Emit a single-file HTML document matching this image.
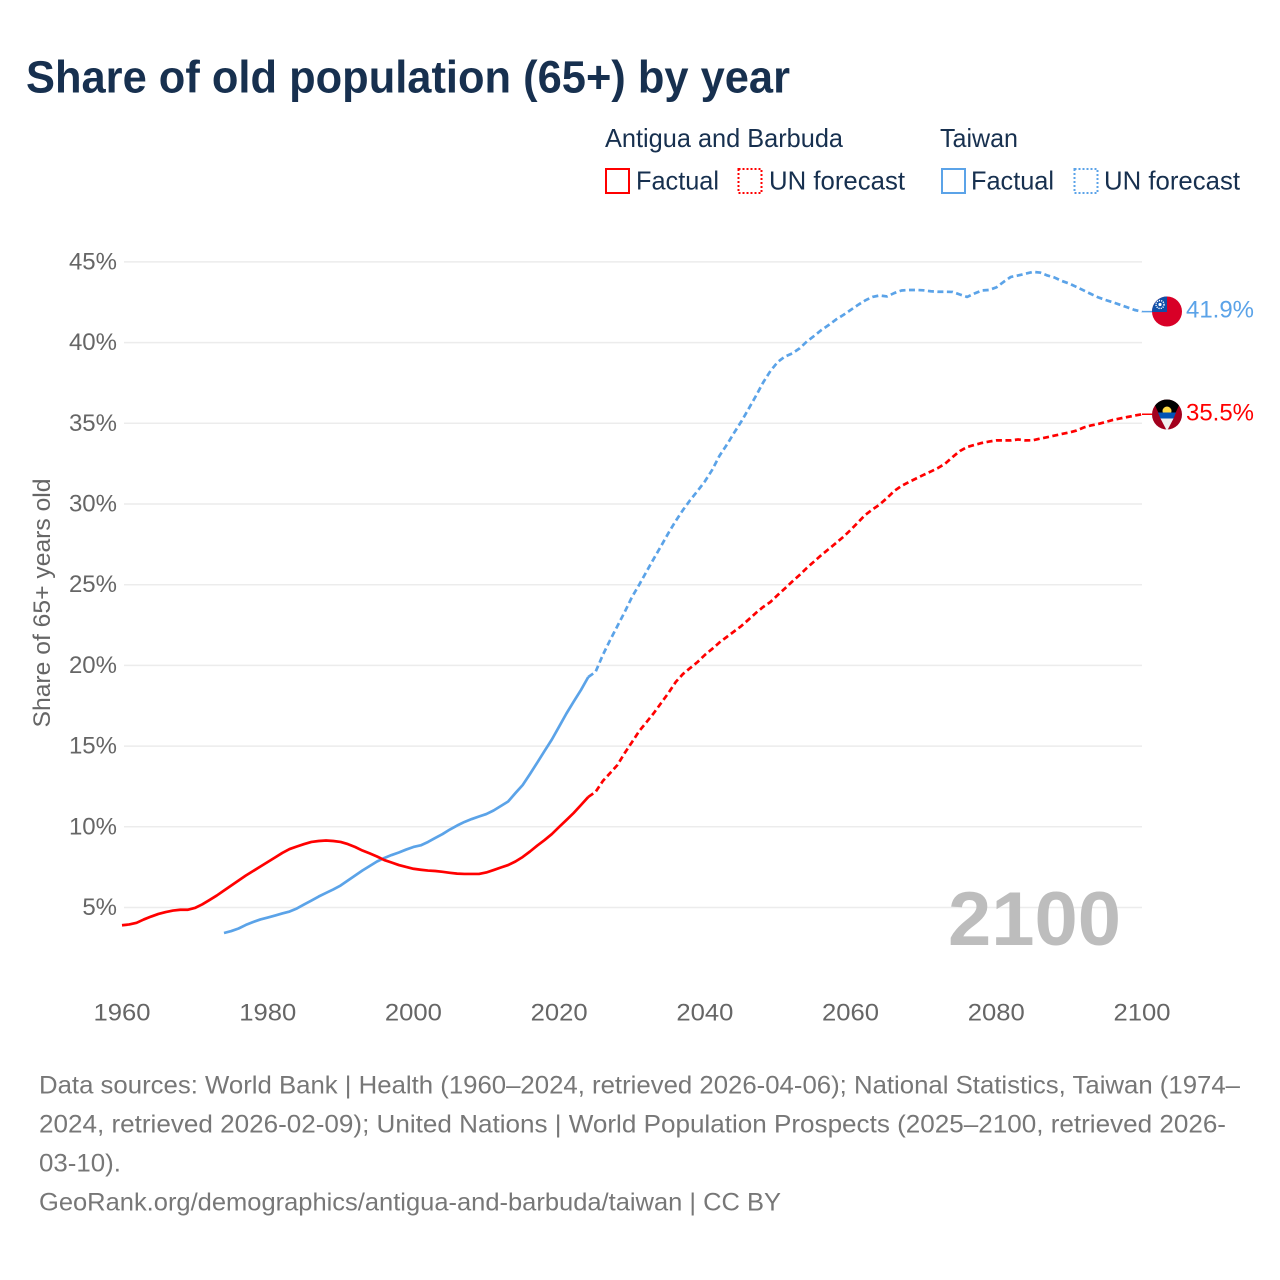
<!DOCTYPE html>
<html lang="en">
<head>
<meta charset="utf-8">
<title>Share of old population (65+) by year</title>
<style>
html,body{margin:0;padding:0;background:#fff;width:1280px;height:1280px;overflow:hidden}
svg{display:block}
text{font-family:"Liberation Sans",sans-serif}
</style>
</head>
<body>
<svg id="chart" xmlns="http://www.w3.org/2000/svg" width="1280" height="1280" viewBox="0 0 1280 1280">
  <rect x="0" y="0" width="1280" height="1280" fill="#fff"/>
  <text x="26" y="92.5" font-size="45" font-weight="700" fill="#17304f" textLength="764" lengthAdjust="spacingAndGlyphs">Share of old population (65+) by year</text>

  <g font-size="26" fill="#17304f">
    <text x="605" y="147" textLength="238" lengthAdjust="spacingAndGlyphs">Antigua and Barbuda</text>
    <text x="940" y="147" textLength="78" lengthAdjust="spacingAndGlyphs">Taiwan</text>
    <rect x="606" y="169" width="23" height="24" fill="none" stroke="#ff0000" stroke-width="2"/>
    <text x="636" y="189.5" textLength="83" lengthAdjust="spacingAndGlyphs">Factual</text>
    <rect x="738.5" y="169" width="23" height="24" fill="none" stroke="#ff0000" stroke-width="2" stroke-dasharray="2 2"/>
    <text x="769" y="189.5" textLength="136" lengthAdjust="spacingAndGlyphs">UN forecast</text>
    <rect x="942" y="169" width="23" height="24" fill="none" stroke="#5ba3e8" stroke-width="2"/>
    <text x="971" y="189.5" textLength="83" lengthAdjust="spacingAndGlyphs">Factual</text>
    <rect x="1074.5" y="169" width="23" height="24" fill="none" stroke="#5ba3e8" stroke-width="2" stroke-dasharray="2 2"/>
    <text x="1104" y="189.5" textLength="136" lengthAdjust="spacingAndGlyphs">UN forecast</text>
  </g>

  <g id="grid"></g>
  <g id="yticks"></g>
  <g id="xticks"></g>
  <text transform="translate(50,603) rotate(-90)" text-anchor="middle" font-size="24.5" fill="#666" textLength="249" lengthAdjust="spacingAndGlyphs">Share of 65+ years old</text>
  <text x="948" y="945" font-size="76" font-weight="700" fill="#bdbdbd" textLength="173" lengthAdjust="spacingAndGlyphs">2100</text>

  <g id="series"></g>

  <g>
    <clipPath id="clip-tw"><circle cx="1167" cy="311.5" r="15"/></clipPath>
    <g clip-path="url(#clip-tw)">
      <rect x="1150" y="295" width="34" height="34" fill="#d80027"/>
      <rect x="1150" y="295" width="17" height="17" fill="#0f4fa8"/>
      <circle cx="1160" cy="304.5" r="4" fill="none" stroke="#fff" stroke-width="1.4" stroke-dasharray="1.2 1"/>
      <circle cx="1160" cy="304.5" r="1.6" fill="#fff"/>
    </g>
  </g>
  <g>
    <clipPath id="clip-ag"><circle cx="1167" cy="414.5" r="15"/></clipPath>
    <g clip-path="url(#clip-ag)">
      <rect x="1150" y="398" width="34" height="34" fill="#a2001d"/>
      <polygon points="1152,399 1182,399 1167,431" fill="#000"/>
      <circle cx="1167" cy="411" r="4.5" fill="#ffda44"/>
      <polygon points="1158,412.5 1176,412.5 1173.5,418.5 1160.5,418.5" fill="#0052b4"/>
      <polygon points="1160.5,418.5 1173.5,418.5 1167,431" fill="#f0f0f0"/>
    </g>
  </g>
  <text id="label-taiwan" x="1186" y="317.5" font-size="24.5" fill="#5ba3e8" textLength="68" lengthAdjust="spacingAndGlyphs">41.9%</text>
  <text id="label-antigua" x="1186" y="420.5" font-size="24.5" fill="#ff0000" textLength="68" lengthAdjust="spacingAndGlyphs">35.5%</text>

  <g font-size="25" fill="#777">
    <text x="39" y="1093.5" textLength="1201" lengthAdjust="spacingAndGlyphs">Data sources: World Bank | Health (1960–2024, retrieved 2026-04-06); National Statistics, Taiwan (1974–</text>
    <text x="39" y="1132.5" textLength="1187" lengthAdjust="spacingAndGlyphs">2024, retrieved 2026-02-09); United Nations | World Population Prospects (2025–2100, retrieved 2026-</text>
    <text x="39" y="1171.5" textLength="82" lengthAdjust="spacingAndGlyphs">03-10).</text>
    <text x="39" y="1210.5" textLength="742" lengthAdjust="spacingAndGlyphs">GeoRank.org/demographics/antigua-and-barbuda/taiwan | CC BY</text>
  </g>
</svg>
<script>
const yTickValues = [5, 10, 15, 20, 25, 30, 35, 40, 45];
const xTickYears = [1960, 1980, 2000, 2020, 2040, 2060, 2080, 2100];
const redStartYear = 1960;
const blueStartYear = 1974;
const forecastStartYear = 2024;
const redValues = [3.90,3.95,4.05,4.26,4.44,4.60,4.72,4.81,4.86,4.86,
4.97,5.19,5.46,5.74,6.05,6.36,6.67,6.98,7.26,7.54,
7.82,8.10,8.38,8.62,8.78,8.93,9.06,9.12,9.15,9.12,
9.06,8.93,8.75,8.53,8.35,8.16,7.94,7.79,7.63,7.51,
7.40,7.34,7.29,7.26,7.21,7.15,7.10,7.08,7.08,7.08,
7.17,7.32,7.48,7.63,7.85,8.13,8.47,8.84,9.18,9.55,
9.99,10.42,10.86,11.35,11.85,12.16,12.84,13.33,13.83,14.57,
15.25,15.94,16.49,17.05,17.67,18.29,18.97,19.47,19.84,20.21,
20.65,21.02,21.42,21.76,22.10,22.44,22.84,23.25,23.62,23.93,
24.36,24.77,25.20,25.60,26.04,26.44,26.84,27.21,27.58,27.96,
28.39,28.85,29.32,29.66,29.97,30.37,30.81,31.12,31.36,31.58,
31.80,32.01,32.23,32.51,32.91,33.28,33.53,33.66,33.78,33.87,
33.94,33.94,33.94,34.00,33.94,33.95,34.05,34.14,34.24,34.34,
34.43,34.55,34.74,34.87,34.96,35.08,35.21,35.30,35.39,35.48,35.56];
const blueValues = [3.42,3.54,3.70,3.92,4.10,4.26,
4.38,4.50,4.63,4.75,4.94,5.19,5.43,5.68,5.90,6.12,
6.36,6.67,6.98,7.29,7.57,7.85,8.07,8.25,8.41,8.59,
8.75,8.85,9.06,9.31,9.55,9.83,10.08,10.30,10.48,10.64,
10.79,11.01,11.29,11.57,12.09,12.59,13.27,13.98,14.70,15.41,
16.21,17.02,17.76,18.48,19.28,19.60,20.65,21.57,22.44,23.31,
24.24,25.01,25.82,26.62,27.40,28.20,28.95,29.63,30.25,30.81,
31.40,32.11,32.98,33.66,34.40,35.11,35.89,36.69,37.53,38.24,
38.80,39.14,39.33,39.64,40.07,40.41,40.78,41.09,41.43,41.71,
42.02,42.33,42.61,42.83,42.92,42.86,43.07,43.23,43.26,43.26,
43.24,43.18,43.15,43.15,43.14,42.98,42.83,43.04,43.23,43.26,
43.42,43.76,44.07,44.16,44.27,44.38,44.34,44.16,44.03,43.82,
43.66,43.45,43.23,43.01,42.80,42.64,42.50,42.34,42.18,42.02,41.92];

const NS = 'http://www.w3.org/2000/svg';
function xScale(year) { return 122 + (year - 1960) * (1020 / 140); }
function yScale(value) { return 988.2 - value * 16.14; }
function pathFor(values, startYear, fromYear, toYear) {
  const pts = [];
  values.forEach(function (v, i) {
    const yr = startYear + i;
    if (yr >= fromYear && yr <= toYear) {
      pts.push(xScale(yr).toFixed(2) + ',' + yScale(v).toFixed(2));
    }
  });
  return 'M' + pts.join('L');
}
const gridGroup = document.getElementById('grid');
const yGroup = document.getElementById('yticks');
const xGroup = document.getElementById('xticks');
const seriesGroup = document.getElementById('series');

yTickValues.forEach(function (v) {
  const line = document.createElementNS(NS, 'line');
  
  
  line.setAttribute('x1', 124);
  line.setAttribute('x2', 1142);
  line.setAttribute('y1', yScale(v));
  line.setAttribute('y2', yScale(v));
  line.setAttribute('stroke', '#ececec');
  line.setAttribute('stroke-width', 1.5);
  gridGroup.appendChild(line);
  const t = document.createElementNS(NS, 'text');
  
  
  t.setAttribute('x', 117);
  t.setAttribute('y', yScale(v) + 7.5);
  t.setAttribute('text-anchor', 'end');
  t.setAttribute('font-size', 24);
  t.setAttribute('fill', '#666');
  t.textContent = v + '%';
  yGroup.appendChild(t);
});
xTickYears.forEach(function (yr) {
  const t = document.createElementNS(NS, 'text');
  
  
  t.setAttribute('x', xScale(yr));
  t.setAttribute('y', 1020.5);
  t.setAttribute('text-anchor', 'middle');
  t.setAttribute('font-size', 24);
  t.setAttribute('fill', '#666');
  t.setAttribute('textLength', 57);
  t.setAttribute('lengthAdjust', 'spacingAndGlyphs');
  t.textContent = yr;
  xGroup.appendChild(t);
});
function addLine(values, startYear, fromYear, toYear, color, dashed, name) {
  const p = document.createElementNS(NS, 'path');
  
  
  p.setAttribute('d', pathFor(values, startYear, fromYear, toYear));
  p.setAttribute('fill', 'none');
  p.setAttribute('stroke', color);
  p.setAttribute('stroke-width', 2.7);
  p.setAttribute('stroke-linejoin', 'round');
  if (dashed) { p.setAttribute('stroke-dasharray', '6 3.5'); }
  seriesGroup.appendChild(p);
}
addLine(blueValues, blueStartYear, blueStartYear, forecastStartYear, '#5ba3e8', false, 'line-taiwan-factual');
addLine(blueValues, blueStartYear, forecastStartYear, 2100, '#5ba3e8', true, 'line-taiwan-forecast');
addLine(redValues, redStartYear, redStartYear, forecastStartYear, '#ff0000', false, 'line-antigua-factual');
addLine(redValues, redStartYear, forecastStartYear, 2100, '#ff0000', true, 'line-antigua-forecast');
function addConnector(value, color, name) {
  const c = document.createElementNS(NS, 'line');
  
  
  c.setAttribute('x1', xScale(2100));
  c.setAttribute('x2', xScale(2100) + 10);
  c.setAttribute('y1', yScale(value));
  c.setAttribute('y2', yScale(value));
  c.setAttribute('stroke', color);
  c.setAttribute('stroke-width', 1.5);
  seriesGroup.appendChild(c);
}
addConnector(blueValues[blueValues.length - 1], '#5ba3e8', 'connector-taiwan');
addConnector(redValues[redValues.length - 1], '#ff0000', 'connector-antigua');
</script>
</body>
</html>
